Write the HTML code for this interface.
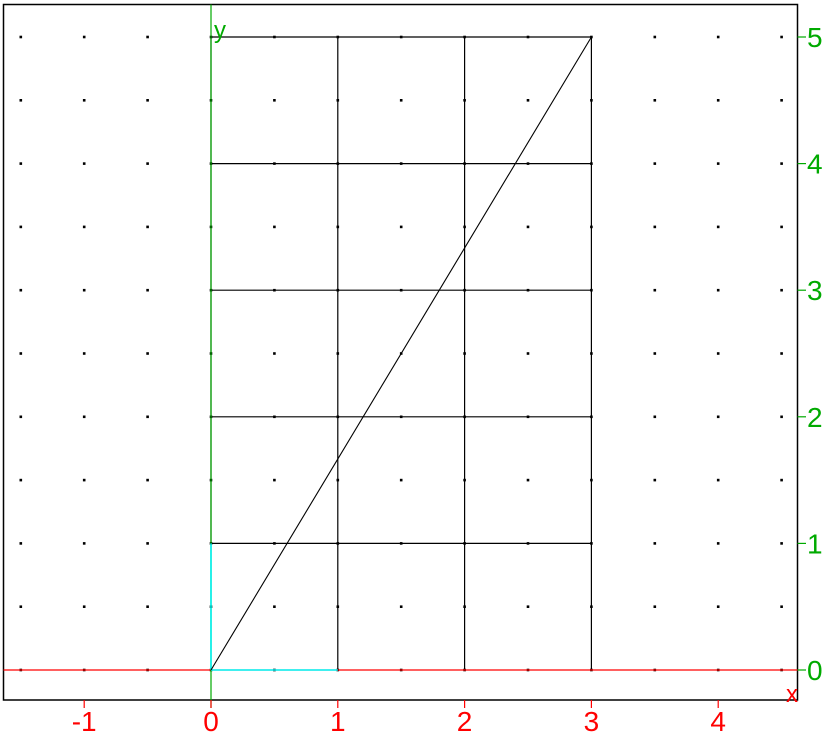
<!DOCTYPE html>
<html><head><meta charset="utf-8"><style>
html,body{margin:0;padding:0;background:#fff;width:826px;height:735px;overflow:hidden}
svg{display:block}
text{font-family:"Liberation Sans",sans-serif}
</style></head><body>
<svg id="chart" width="826" height="735" xmlns="http://www.w3.org/2000/svg"></svg>
<script>
const xTicks=[-1,0,1,2,3,4];
const yTicks=[0,1,2,3,4,5];
const gridXs=[0,1,2,3];
const gridYs=[1,2,3,4,5];
const lineStart=[0,0];
const lineEnd=[3,5];
const xMin=-1.5,xMax=4.5,yMin=0,yMax=5;
const svg=document.getElementById('chart');
const NS='http://www.w3.org/2000/svg';
function X(v){return 211+v*126.8;}
function Y(v){return 670-v*126.6;}
function mk(tag,attrs,name,parent){const e=document.createElementNS(NS,tag);for(const k in attrs)e.setAttribute(k,attrs[k]);


(parent||svg).appendChild(e);return e;}
mk('rect',{x:3.5,y:4.5,width:794,height:695.5,fill:'none',stroke:'#000','stroke-width':1.5},'plot-frame');
const dots=mk('g',{fill:'#000'},'grid-dots');
for(let i=0;i<=12;i++){for(let j=0;j<=10;j++){const xv=xMin+i*0.5,yv=yMin+j*0.5;
mk('rect',{x:X(xv)-1.3,y:Y(yv)-1.3,width:2.6,height:2.6},'grid-dot',dots);}}
const g=mk('g',{stroke:'#000','stroke-width':1.2},'rect-grid');
gridXs.forEach(v=>mk('line',{x1:X(v),y1:Y(0),x2:X(v),y2:Y(5)},'grid-vline',g));
gridYs.forEach(v=>mk('line',{x1:X(0),y1:Y(v),x2:X(3),y2:Y(v)},'grid-hline',g));
mk('line',{x1:3.5,y1:Y(0),x2:797.5,y2:Y(0),stroke:'#f00','stroke-width':1.2},'x-axis');
mk('line',{x1:X(0),y1:4.5,x2:X(0),y2:708,stroke:'#0a0','stroke-width':1.2},'y-axis');
mk('line',{x1:X(0),y1:Y(0),x2:X(1),y2:Y(0),stroke:'#0ff','stroke-width':1.5},'unit-x');
mk('line',{x1:X(0),y1:Y(0),x2:X(0),y2:Y(1),stroke:'#0ff','stroke-width':1.5},'unit-y');
mk('line',{x1:X(lineStart[0]),y1:Y(lineStart[1]),x2:X(lineEnd[0]),y2:Y(lineEnd[1]),stroke:'#000','stroke-width':1.1},'diagonal-line');
xTicks.forEach(v=>{mk('line',{x1:X(v),y1:700,x2:X(v),y2:708,stroke:'#f00','stroke-width':1.2},'x-tick');
const t=mk('text',{x:X(v),y:731,fill:'#f00','font-size':28,'text-anchor':'middle'},'x-tick-label');t.textContent=v;});
yTicks.forEach(v=>{mk('line',{x1:797.5,y1:Y(v),x2:806,y2:Y(v),stroke:'#0a0','stroke-width':1.2},'y-tick');
const t=mk('text',{x:807,y:Y(v)+10,fill:'#0a0','font-size':28},'y-tick-label');t.textContent=v;});
const xl=mk('text',{x:786,y:702,fill:'#f00','font-size':24},'x-axis-label');xl.textContent='x';
const yl=mk('text',{x:214,y:38,fill:'#0a0','font-size':24},'y-axis-label');yl.textContent='y';
</script>
</body></html>
